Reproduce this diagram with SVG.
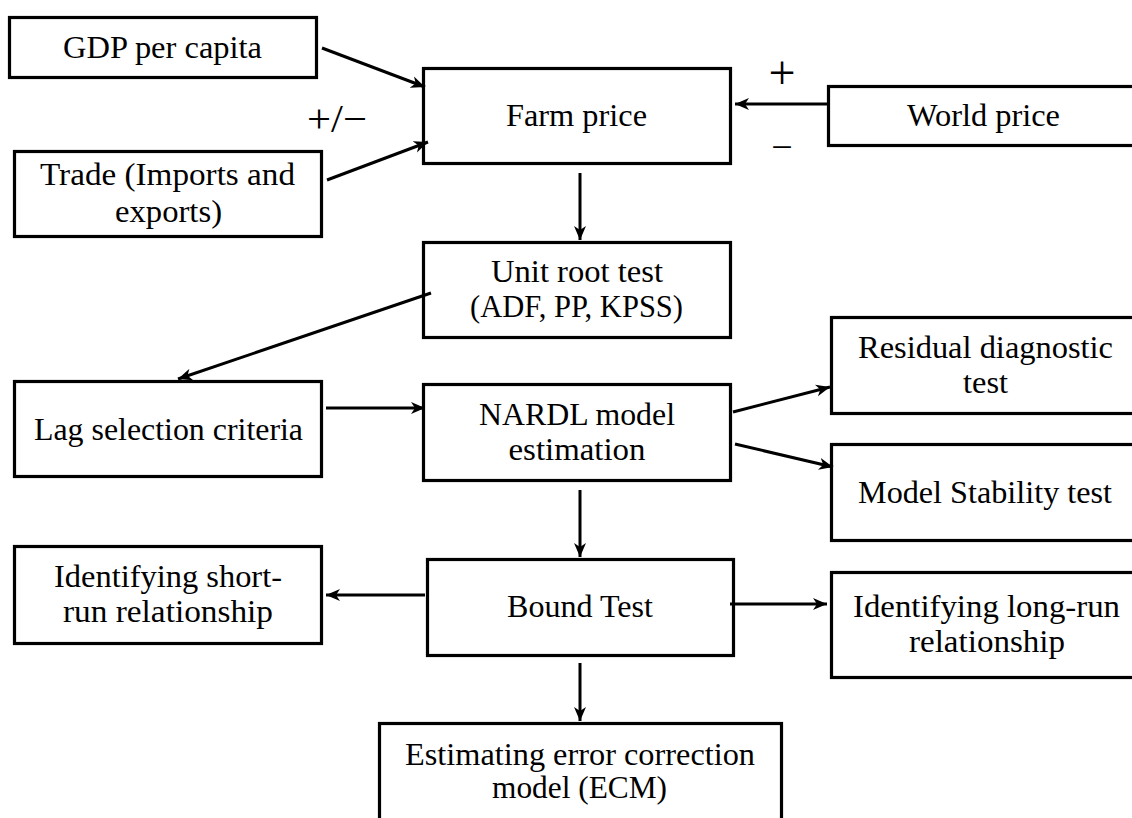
<svg xmlns="http://www.w3.org/2000/svg" width="1132" height="818" viewBox="0 0 1132 818">
  <defs>
    <marker id="ah" markerUnits="userSpaceOnUse" markerWidth="15" markerHeight="13" refX="14" refY="6.5" orient="auto">
      <path d="M0,0.5 L14,6.5 L0,12.5 L4,6.5 Z" fill="#000"/>
    </marker>
  </defs>
  <style>
    .box { fill: #fff; stroke: #000; stroke-width: 3.2; }
    .t { font-family: "Liberation Serif", "Times New Roman", serif; font-size: 32px; fill: #000; text-anchor: middle; }
    .sign { font-family: "Liberation Serif", "Times New Roman", serif; fill: #000; text-anchor: middle; }
    .conn line { stroke: #000; stroke-width: 3; marker-end: url(#ah); }
  </style>
  <rect width="1132" height="818" fill="#fff"/>

  <g id="gdp">
    <rect class="box" x="9.5" y="17.5" width="307" height="60"/>
    <text class="t" x="162.5" y="58" textLength="199" lengthAdjust="spacingAndGlyphs">GDP per capita</text>
  </g>
  <g id="trade">
    <rect class="box" x="14.5" y="151.5" width="307" height="85"/>
    <text class="t" x="167.5" y="185" textLength="255" lengthAdjust="spacingAndGlyphs">Trade (Imports and</text>
    <text class="t" x="168.5" y="222" textLength="107" lengthAdjust="spacingAndGlyphs">exports)</text>
  </g>
  <g id="farm">
    <rect class="box" x="423.5" y="68.5" width="307" height="95"/>
    <text class="t" x="576.5" y="126" textLength="141" lengthAdjust="spacingAndGlyphs">Farm price</text>
  </g>
  <g id="world">
    <rect class="box" x="828.5" y="86.5" width="320" height="59"/>
    <text class="t" x="983.5" y="126" textLength="153" lengthAdjust="spacingAndGlyphs">World price</text>
  </g>
  <g id="unitroot">
    <rect class="box" x="423.5" y="242.5" width="307" height="95"/>
    <text class="t" x="577" y="282" textLength="172" lengthAdjust="spacingAndGlyphs">Unit root test</text>
    <text class="t" x="576.5" y="317" textLength="213" lengthAdjust="spacingAndGlyphs">(ADF, PP, KPSS)</text>
  </g>
  <g id="lag">
    <rect class="box" x="14.5" y="381.5" width="307" height="95"/>
    <text class="t" x="168.5" y="440" textLength="269" lengthAdjust="spacingAndGlyphs">Lag selection criteria</text>
  </g>
  <g id="nardl">
    <rect class="box" x="423.5" y="384.5" width="307" height="96"/>
    <text class="t" x="577" y="425" textLength="196" lengthAdjust="spacingAndGlyphs">NARDL model</text>
    <text class="t" x="577" y="460" textLength="137" lengthAdjust="spacingAndGlyphs">estimation</text>
  </g>
  <g id="residual">
    <rect class="box" x="831.5" y="317.5" width="320" height="96"/>
    <text class="t" x="985.5" y="358" textLength="255" lengthAdjust="spacingAndGlyphs">Residual diagnostic</text>
    <text class="t" x="985.5" y="393" textLength="45" lengthAdjust="spacingAndGlyphs">test</text>
  </g>
  <g id="stability">
    <rect class="box" x="831.5" y="444.5" width="320" height="96"/>
    <text class="t" x="985" y="503" textLength="254" lengthAdjust="spacingAndGlyphs">Model Stability test</text>
  </g>
  <g id="shortrun">
    <rect class="box" x="14.5" y="546.5" width="307" height="97"/>
    <text class="t" x="168" y="587" textLength="228" lengthAdjust="spacingAndGlyphs">Identifying short-</text>
    <text class="t" x="168" y="622" textLength="210" lengthAdjust="spacingAndGlyphs">run relationship</text>
  </g>
  <g id="bound">
    <rect class="box" x="427.5" y="559.5" width="306" height="96"/>
    <text class="t" x="580" y="617" textLength="146" lengthAdjust="spacingAndGlyphs">Bound Test</text>
  </g>
  <g id="longrun">
    <rect class="box" x="831.5" y="572.5" width="320" height="105"/>
    <text class="t" x="986.5" y="617" textLength="267" lengthAdjust="spacingAndGlyphs">Identifying long-run</text>
    <text class="t" x="987" y="652" textLength="156" lengthAdjust="spacingAndGlyphs">relationship</text>
  </g>
  <g id="ecm">
    <rect class="box" x="379.5" y="723.5" width="402" height="120"/>
    <text class="t" x="580" y="765" textLength="350" lengthAdjust="spacingAndGlyphs">Estimating error correction</text>
    <text class="t" x="579.5" y="798" textLength="175" lengthAdjust="spacingAndGlyphs">model (ECM)</text>
  </g>

  <g id="signs">
    <text class="sign" x="337" y="132" font-size="40" textLength="60" lengthAdjust="spacingAndGlyphs">+/−</text>
    <text class="sign" x="782" y="89" font-size="48">+</text>
    <text class="sign" x="782" y="160" font-size="38">−</text>
  </g>

  <g id="connectors" class="conn">
    <line x1="322" y1="48" x2="425" y2="87"/>
    <line x1="327" y1="180" x2="428" y2="142"/>
    <line x1="830" y1="104" x2="735" y2="104"/>
    <line x1="580" y1="173" x2="580" y2="240"/>
    <line x1="431" y1="293" x2="178" y2="379"/>
    <line x1="326" y1="408" x2="425" y2="408"/>
    <line x1="733" y1="412" x2="830" y2="387"/>
    <line x1="735" y1="444" x2="833" y2="467"/>
    <line x1="580" y1="490" x2="580" y2="557"/>
    <line x1="425" y1="595" x2="326" y2="595"/>
    <line x1="730" y1="604" x2="827" y2="604"/>
    <line x1="580" y1="663" x2="580" y2="721"/>
  </g>
</svg>
